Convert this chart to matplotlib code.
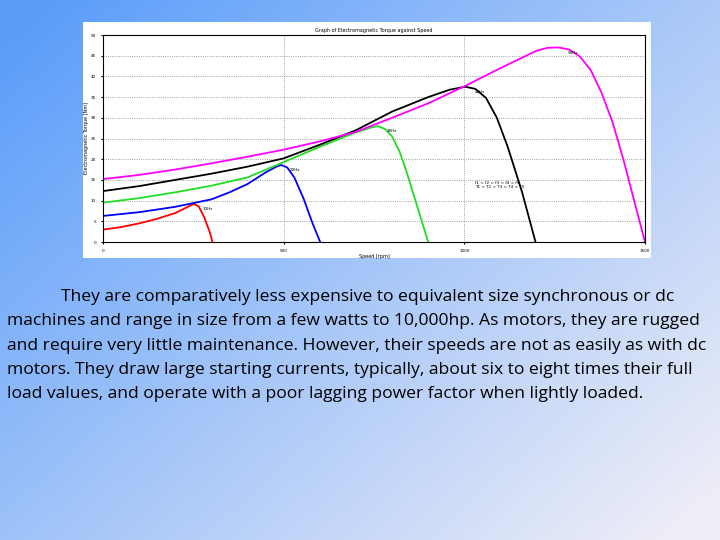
import numpy as np
import matplotlib.pyplot as plt

# torque-speed curves (speed rpm, torque Nm)
red_x = [0, 50, 100, 150, 200, 235, 251, 265, 280, 295, 303]
red_y = [3.0, 3.6, 4.5, 5.6, 7.0, 8.5, 9.2, 8.6, 6.0, 2.5, 0]
blue_x = [0, 100, 200, 300, 350, 400, 450, 480, 493, 510, 530, 555, 580, 601]
blue_y = [6.3, 7.2, 8.5, 10.3, 12.0, 14.0, 16.8, 18.2, 18.6, 18.0, 15.5, 10.5, 4.5, 0]
green_x = [0, 100, 200, 300, 400, 500, 600, 700, 740, 761, 780, 800, 820, 840, 870, 900]
green_y = [9.5, 10.6, 12.0, 13.6, 15.6, 19.3, 23.0, 26.5, 27.6, 28.0, 27.3, 25.5, 22.0, 17.0, 8.5, 0]
black_x = [0, 100, 200, 300, 400, 500, 600, 700, 800, 900, 960, 1003, 1030, 1060, 1090, 1120, 1160, 1197]
black_y = [12.3, 13.5, 15.0, 16.5, 18.2, 20.2, 23.5, 27.0, 31.5, 35.0, 36.8, 37.5, 37.0, 34.8, 30.0, 23.0, 12.0, 0]
mag_x = [0, 100, 200, 300, 400, 500, 600, 700, 800, 900, 1000, 1100, 1200, 1230, 1260, 1290, 1320, 1350, 1380, 1410, 1440, 1470, 1500]
mag_y = [15.2, 16.2, 17.5, 19.0, 20.6, 22.3, 24.3, 26.6, 30.0, 33.5, 37.6, 42.0, 46.2, 46.9, 47.0, 46.5, 44.8, 41.5, 36.0, 29.0, 20.0, 10.0, 0]

curves = [(red_x, red_y, 'red', '10Hz'), (blue_x, blue_y, 'blue', '20Hz'),
          (green_x, green_y, '#22dd22', '30Hz'), (black_x, black_y, 'black', '40Hz'),
          (mag_x, mag_y, 'magenta', '50Hz')]

fig = plt.figure(figsize=(7.2, 5.4), dpi=100)
# slide background gradient
bg = fig.add_axes([0, 0, 1, 1])
g = np.linspace(0, 1, 256)
xx, yy = np.meshgrid(g, g)
t = np.clip(0.6 * xx + 0.5 * (1 - yy) - 0.05, 0, 1)
c0 = np.array([0.36, 0.62, 0.98])
c1 = np.array([0.93, 0.93, 0.97])
img = c0 * (1 - t[..., None]) + c1 * t[..., None]
bg.imshow(img, aspect='auto', extent=[0, 1, 0, 1], origin='lower')
bg.axis('off')

# white plot panel
panel = fig.add_axes([83 / 720, 1 - 258 / 540, 568 / 720, 236 / 540])
panel.set_facecolor('white')
panel.set_xticks([])
panel.set_yticks([])
for s in panel.spines.values():
    s.set_visible(False)

ax = fig.add_axes([103 / 720, 1 - 242 / 540, 542 / 720, 207 / 540])
for x, y, c, lab in curves:
    ax.plot(x, y, color=c, lw=1.3)
    i = int(np.argmax(y))
    ax.text(x[i] + 25, y[i] - 1.5, lab, fontsize=3)
ax.text(1030, 13, 'f1 < f2 < f3 < f4 < f5\nT1 < T2 < T3 < T4 < T5', fontsize=3)
ax.set_xlim(0, 1500)
ax.set_ylim(0, 50)
ax.set_xticks([0, 500, 1000, 1500])
ax.set_yticks(range(0, 51, 5))
ax.tick_params(labelsize=3, length=1.5)
ax.grid(True, ls=':', color='gray', lw=0.6)
ax.set_title('Graph of Electromagnetic Torque against Speed', fontsize=3.5, pad=2)
ax.set_xlabel('Speed [rpm]', fontsize=3.5, labelpad=1)
ax.set_ylabel('Electromagnetic Torque [Nm]', fontsize=3.5, labelpad=1)

lines = [
    ("            They are comparatively less expensive to equivalent size synchronous or dc", 297),
    ("machines and range in size from a few watts to 10,000hp. As motors, they are rugged", 321),
    ("and require very little maintenance. However, their speeds are not as easily as with dc", 346),
    ("motors. They draw large starting currents, typically, about six to eight times their full", 370),
    ("load values, and operate with a poor lagging power factor when lightly loaded.", 394),
]
for s, y in lines:
    fig.text(7 / 720, 1 - y / 540, s, fontsize=12.6, family='Open Sans', va='center', color='black')

fig.savefig('out.png', dpi=100)
